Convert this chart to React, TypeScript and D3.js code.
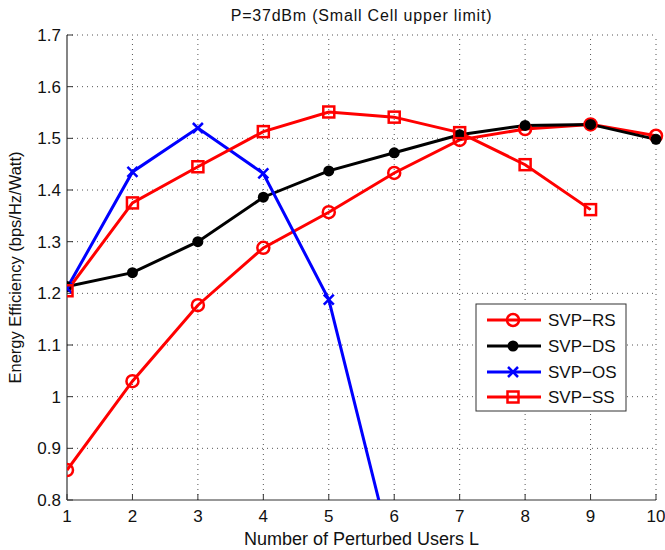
import React from "react";
import * as d3 from "d3";

const xValues = [1, 2, 3, 4, 5, 6, 7, 8, 9, 10];
const rsValues = [0.858, 1.03, 1.177, 1.288, 1.357, 1.433, 1.497, 1.518, 1.527, 1.505];
const dsValues = [1.213, 1.24, 1.3, 1.386, 1.437, 1.472, 1.507, 1.525, 1.527, 1.498];
const osX = [1, 2, 3, 4, 5, 6];
const osValues = [1.21, 1.435, 1.52, 1.432, 1.188, 0.68];
const ssX = [1, 2, 3, 4, 5, 6, 7, 8, 9];
const ssValues = [1.205, 1.375, 1.445, 1.513, 1.551, 1.541, 1.511, 1.449, 1.362];
const xTicks = [1, 2, 3, 4, 5, 6, 7, 8, 9, 10];
const yTicks = [0.8, 0.9, 1, 1.1, 1.2, 1.3, 1.4, 1.5, 1.6, 1.7];
const legendLabels = ["SVP\u2212RS", "SVP\u2212DS", "SVP\u2212OS", "SVP\u2212SS"];
const titleText = "P=37dBm (Small Cell upper limit)";
const xLabel = "Number of Perturbed Users L";
const yLabel = "Energy Efficiency (bps/Hz/Watt)";

const W = 665, H = 550;
const L = 67, R = 656, T = 35, B = 500;
const FONT = "'Liberation Sans', Arial, sans-serif";

export default function App() {
  const x = d3.scaleLinear().domain([1, 10]).range([L, R]);
  const y = d3.scaleLinear().domain([0.8, 1.7]).range([B, T]);
  const line = d3.line<[number, number]>().x(d => x(d[0])).y(d => y(d[1]));
  const zip = (xs: number[], ys: number[]) => xs.map((v, i) => [v, ys[i]] as [number, number]);

  const rs = zip(xValues, rsValues);
  const ds = zip(xValues, dsValues);
  const os = zip(osX, osValues);
  const ss = zip(ssX, ssValues);

  const circle = (cx: number, cy: number, color: string, key: any) => (
    <circle key={key} cx={cx} cy={cy} r={6} fill="none" stroke={color} strokeWidth={2.5} />
  );
  const dot = (cx: number, cy: number, key: any) => (
    <circle key={key} cx={cx} cy={cy} r={5.5} fill="black" />
  );
  const cross = (cx: number, cy: number, key: any) => (
    <g key={key} stroke="blue" strokeWidth={2.5}>
      <line x1={cx - 5} y1={cy - 5} x2={cx + 5} y2={cy + 5} />
      <line x1={cx - 5} y1={cy + 5} x2={cx + 5} y2={cy - 5} />
    </g>
  );
  const square = (cx: number, cy: number, key: any) => (
    <rect key={key} x={cx - 5.5} y={cy - 5.5} width={11} height={11} fill="none" stroke="red" strokeWidth={2.5} />
  );

  const legX = 476, legY = 304, legW = 150, legH = 107;
  const rowY = [320, 346, 372, 397];

  return (
    <svg width={W} height={H} style={{ position: "absolute", left: 0, top: 0, background: "white" }}>
      <defs>
        <clipPath id="plotclip">
          <rect x={L} y={T - 8} width={R - L + 8} height={B - T + 8} />
        </clipPath>
      </defs>
      <rect x={0} y={0} width={W} height={H} fill="white" />
      {/* grid */}
      {xTicks.slice(1).map(t => (
        <line key={"gx" + t} x1={x(t)} x2={x(t)} y1={B} y2={T} stroke="#555" strokeWidth={1} strokeDasharray="1,4" />
      ))}
      {yTicks.slice(1).map(t => (
        <line key={"gy" + t} x1={L} x2={R} y1={y(t)} y2={y(t)} stroke="#555" strokeWidth={1} strokeDasharray="1,4" />
      ))}
      {/* axes */}
      <line x1={L} x2={R} y1={B} y2={B} stroke="#333" strokeWidth={1.2} />
      <line x1={L} x2={L} y1={B} y2={T} stroke="#333" strokeWidth={1.2} />
      {xTicks.map(t => (
        <line key={"tx" + t} x1={x(t)} x2={x(t)} y1={B} y2={B - 6} stroke="#333" strokeWidth={1} />
      ))}
      {yTicks.map(t => (
        <line key={"ty" + t} x1={L} x2={L + 6} y1={y(t)} y2={y(t)} stroke="#333" strokeWidth={1} />
      ))}
      {xTicks.map(t => (
        <text key={"lx" + t} x={x(t)} y={B + 22} textAnchor="middle" fontFamily={FONT} fontSize={17} fill="#111">{t}</text>
      ))}
      {yTicks.map(t => (
        <text key={"ly" + t} x={L - 6} y={y(t) + 6} textAnchor="end" fontFamily={FONT} fontSize={17} fill="#111">{d3.format("")(+t.toFixed(1))}</text>
      ))}
      <text x={(L + R) / 2} y={545} textAnchor="middle" fontFamily={FONT} fontSize={18} fill="#111">{xLabel}</text>
      <text x={0} y={0} transform={`translate(21,${(T + B) / 2}) rotate(-90)`} textAnchor="middle" fontFamily={FONT} fontSize={16.5} fill="#111">{yLabel}</text>
      <text x={(L + R) / 2} y={21} textAnchor="middle" fontFamily={FONT} fontSize={16} letterSpacing={0.8} fill="#111">{titleText}</text>

      <g clipPath="url(#plotclip)">
        <path d={line(rs) || ""} fill="none" stroke="red" strokeWidth={3} />
        <path d={line(ds) || ""} fill="none" stroke="black" strokeWidth={3} />
        <path d={line(os) || ""} fill="none" stroke="blue" strokeWidth={3} />
        <path d={line(ss) || ""} fill="none" stroke="red" strokeWidth={3} />
        {rs.map((d, i) => circle(x(d[0]), y(d[1]), "red", "rs" + i))}
        {ds.map((d, i) => dot(x(d[0]), y(d[1]), "ds" + i))}
        {os.map((d, i) => cross(x(d[0]), y(d[1]), "os" + i))}
        {ss.map((d, i) => square(x(d[0]), y(d[1]), "ss" + i))}
      </g>

      {/* legend */}
      <rect x={legX} y={legY} width={legW} height={legH} fill="white" stroke="#333" strokeWidth={1} />
      {legendLabels.map((lab, i) => {
        const cy = rowY[i];
        const color = i === 1 ? "black" : i === 2 ? "blue" : "red";
        const mx = 513;
        return (
          <g key={"leg" + i}>
            <line x1={487} x2={541} y1={cy} y2={cy} stroke={color} strokeWidth={3} />
            {i === 0 && circle(mx, cy, "red", "lm0")}
            {i === 1 && dot(mx, cy, "lm1")}
            {i === 2 && cross(mx, cy, "lm2")}
            {i === 3 && square(mx, cy, "lm3")}
            <text x={548} y={cy + 6} fontFamily={FONT} fontSize={17} fill="#111">{lab}</text>
          </g>
        );
      })}
    </svg>
  );
}
